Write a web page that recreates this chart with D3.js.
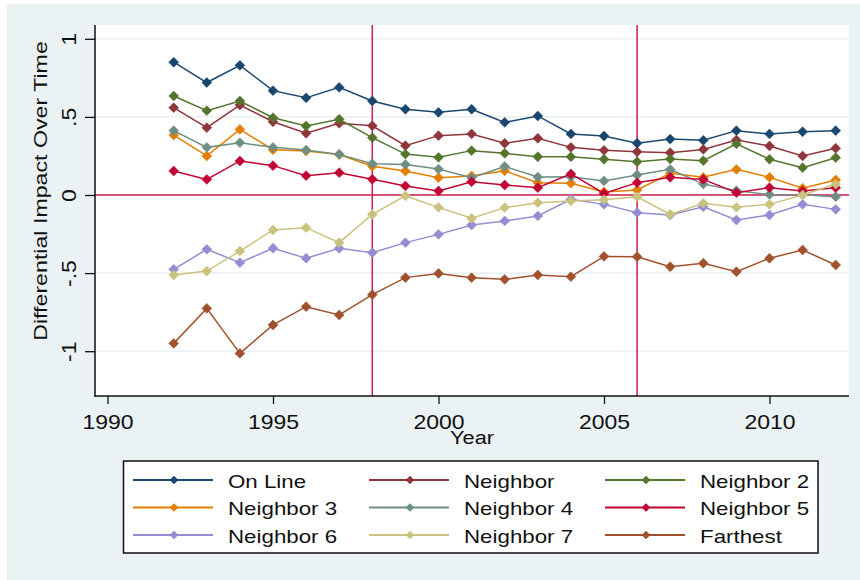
<!DOCTYPE html>
<html>
<head>
<meta charset="utf-8">
<script src="https://cdn.jsdelivr.net/npm/d3@7"></script>
<style>
  html, body { margin: 0; padding: 0; background: #ffffff; }
  svg { display: block; }
  text { font-family: "Liberation Sans", Arial, sans-serif; fill: #111111; }
</style>
</head>
<body>
<svg id="chart" width="860" height="580"></svg>
<script>
// Years on the horizontal axis
const years = [1992, 1993, 1994, 1995, 1996, 1997, 1998, 1999, 2000, 2001, 2002,
               2003, 2004, 2005, 2006, 2007, 2008, 2009, 2010, 2011, 2012];

// Series labels, in drawing / legend order
const seriesNames = ["On Line", "Neighbor", "Neighbor 2", "Neighbor 3", "Neighbor 4",
                     "Neighbor 5", "Neighbor 6", "Neighbor 7", "Farthest"];

// Differential impact by year, one array per series
const onLine    = [0.850, 0.720, 0.830, 0.668, 0.622, 0.689, 0.602, 0.549, 0.529, 0.549, 0.465,
                   0.506, 0.391, 0.378, 0.331, 0.358, 0.350, 0.412, 0.391, 0.405, 0.412];
const neighbor  = [0.559, 0.431, 0.576, 0.469, 0.395, 0.459, 0.443, 0.316, 0.380, 0.391, 0.331,
                   0.363, 0.305, 0.286, 0.277, 0.271, 0.292, 0.352, 0.314, 0.250, 0.299];
const neighbor2 = [0.634, 0.540, 0.602, 0.495, 0.442, 0.485, 0.367, 0.262, 0.241, 0.284, 0.267,
                   0.245, 0.245, 0.229, 0.213, 0.230, 0.220, 0.327, 0.229, 0.175, 0.239];
const neighbor3 = [0.384, 0.250, 0.420, 0.290, 0.282, 0.259, 0.184, 0.154, 0.111, 0.122, 0.155,
                   0.078, 0.075, 0.020, 0.032, 0.139, 0.113, 0.164, 0.113, 0.043, 0.096];
const neighbor4 = [0.412, 0.305, 0.335, 0.305, 0.288, 0.260, 0.200, 0.196, 0.166, 0.111, 0.183,
                   0.115, 0.117, 0.090, 0.128, 0.164, 0.070, 0.028, 0.003, 0.002, -0.011];
const neighbor5 = [0.154, 0.100, 0.218, 0.188, 0.124, 0.143, 0.101, 0.058, 0.026, 0.085, 0.064,
                   0.047, 0.135, 0.010, 0.079, 0.113, 0.100, 0.015, 0.047, 0.026, 0.047];
const neighbor6 = [-0.476, -0.348, -0.433, -0.341, -0.405, -0.341, -0.369, -0.305, -0.252, -0.192, -0.166,
                   -0.134, -0.028, -0.060, -0.113, -0.128, -0.075, -0.160, -0.128, -0.060, -0.092];
const neighbor7 = [-0.512, -0.487, -0.359, -0.224, -0.209, -0.305, -0.124, -0.006, -0.079, -0.149, -0.081,
                   -0.049, -0.038, -0.030, -0.011, -0.124, -0.053, -0.079, -0.060, 0.000, 0.070];
const farthest  = [-0.950, -0.726, -1.014, -0.832, -0.715, -0.768, -0.638, -0.529, -0.502, -0.529, -0.540,
                   -0.512, -0.523, -0.393, -0.395, -0.459, -0.437, -0.491, -0.405, -0.352, -0.448];

// Axis ticks and reference lines
const xTicks = [1990, 1995, 2000, 2005, 2010];
const yTicks = [-1, -0.5, 0, 0.5, 1];
const refYears = [1998, 2006];
const refValue = 0;

// Styling
const seriesColors = ["#1a476f", "#90353b", "#55752f", "#e37e00", "#6e8e84",
                      "#c10534", "#938dd2", "#cac27e", "#a0522d"];
const refColor = "#cc1d4a";
const bgColor = "#eaf2f3";

const seriesValues = [onLine, neighbor, neighbor2, neighbor3, neighbor4,
                      neighbor5, neighbor6, neighbor7, farthest];
const series = seriesNames.map((name, i) => ({
  name,
  color: seriesColors[i],
  points: years.map((yr, j) => ({ year: yr, value: seriesValues[i][j] }))
}));

const svg = d3.select("#chart");
const plot = { left: 95, right: 849, top: 25, bottom: 396 };

// Graph region and plot region
svg.append("rect").attr("x", 7).attr("y", 4).attr("width", 853).attr("height", 576).attr("fill", bgColor);
svg.append("rect").attr("x", plot.left).attr("y", plot.top)
  .attr("width", plot.right - plot.left).attr("height", plot.bottom - plot.top).attr("fill", "#ffffff");

const x = d3.scaleLinear().domain([1990, 2010]).range([107.5, 769.5]);
const y = d3.scaleLinear().domain([-1, 1]).range([351.2, 38.8]);

// Horizontal grid lines
svg.append("g").selectAll("line")
  .data(yTicks.filter(v => v !== refValue))
  .join("line")
  .attr("x1", plot.left).attr("x2", plot.right)
  .attr("y1", d => y(d)).attr("y2", d => y(d))
  .attr("stroke", bgColor).attr("stroke-width", 1.6);

// Reference lines
svg.append("line")
  .attr("x1", plot.left).attr("x2", plot.right)
  .attr("y1", y(refValue)).attr("y2", y(refValue))
  .attr("stroke", refColor).attr("stroke-width", 1.5);
svg.append("g").selectAll("line")
  .data(refYears)
  .join("line")
  .attr("x1", d => x(d)).attr("x2", d => x(d))
  .attr("y1", plot.top).attr("y2", plot.bottom)
  .attr("stroke", refColor).attr("stroke-width", 1.5);

// Series lines and diamond markers
const line = d3.line().x(d => x(d.year)).y(d => y(d.value));
const diamond = d3.symbol().type(d3.symbolDiamond2).size(62);

const sg = svg.append("g").selectAll("g").data(series).join("g");
sg.append("path")
  .attr("d", d => line(d.points))
  .attr("fill", "none")
  .attr("stroke", d => d.color)
  .attr("stroke-width", 1.5);
sg.each(function (s) {
  d3.select(this).selectAll("path.mk")
    .data(s.points)
    .join("path")
    .attr("class", "mk")
    .attr("d", diamond)
    .attr("transform", d => `translate(${x(d.year)},${y(d.value)})`)
    .attr("fill", s.color)
    .attr("stroke", s.color)
    .attr("stroke-width", 0.6);
});

// Stata-style tick labels: drop the leading zero
const fmtY = d => d === 0 ? "0" : String(d).replace("0.", ".");

// Y axis
const yAxisG = svg.append("g")
  .attr("transform", `translate(${plot.left},0)`)
  .call(d3.axisLeft(y).tickValues(yTicks).tickSize(10).tickFormat(fmtY));
yAxisG.select(".domain").remove();
yAxisG.attr("font-family", null).attr("font-size", null);
yAxisG.selectAll(".tick line").attr("stroke", "#111").attr("stroke-width", 1.3);
yAxisG.selectAll(".tick text")
  .attr("x", null).attr("dy", null)
  .attr("text-anchor", "middle")
  .attr("font-size", 20)
  .attr("fill", "#111")
  .attr("transform", "translate(-19,0) rotate(-90) scale(1.15,1)");
svg.append("line")
  .attr("x1", plot.left).attr("x2", plot.left)
  .attr("y1", plot.top).attr("y2", plot.bottom + 0.7)
  .attr("stroke", "#111").attr("stroke-width", 1.5);

// X axis
const xAxisG = svg.append("g")
  .attr("transform", `translate(0,${plot.bottom})`)
  .call(d3.axisBottom(x).tickValues(xTicks).tickSize(8).tickFormat(d3.format("d")));
xAxisG.select(".domain").remove();
xAxisG.attr("font-family", null).attr("font-size", null);
xAxisG.selectAll(".tick line").attr("stroke", "#111").attr("stroke-width", 1.3);
xAxisG.selectAll(".tick text")
  .attr("y", null).attr("dy", null)
  .attr("text-anchor", "middle")
  .attr("font-size", 20)
  .attr("fill", "#111")
  .attr("transform", "translate(0,33) scale(1.15,1)");
svg.append("line")
  .attr("x1", plot.left - 0.7).attr("x2", plot.right)
  .attr("y1", plot.bottom).attr("y2", plot.bottom)
  .attr("stroke", "#111").attr("stroke-width", 1.5);

// Axis titles
svg.append("text")
  .attr("transform", `translate(${(plot.left + plot.right) / 2},444) scale(1.21,1)`)
  .attr("text-anchor", "middle")
  .attr("font-size", 18)
  .text("Year");
svg.append("text")
  .attr("transform", "translate(47,191) rotate(-90) scale(1.22,1)")
  .attr("text-anchor", "middle")
  .attr("font-size", 19)
  .text("Differential Impact Over Time");

// Legend
const legend = svg.append("g");
legend.append("rect")
  .attr("x", 123.5).attr("y", 461).attr("width", 694.5).attr("height", 92)
  .attr("fill", "#ffffff").attr("stroke", "#111").attr("stroke-width", 1.5);
const colX = [133, 369, 605];
const rowY = [480, 507.5, 535];
const legendDiamond = d3.symbol().type(d3.symbolDiamond2).size(48);
const items = legend.selectAll("g.item").data(series).join("g")
  .attr("class", "item")
  .attr("transform", (d, i) => `translate(${colX[i % 3]},${rowY[Math.floor(i / 3)]})`);
items.append("line")
  .attr("x1", 0).attr("x2", 80).attr("y1", 0).attr("y2", 0)
  .attr("stroke", d => d.color).attr("stroke-width", 2);
items.append("path")
  .attr("d", legendDiamond)
  .attr("transform", "translate(41,0)")
  .attr("fill", d => d.color);
items.append("text")
  .attr("transform", "translate(95,7.5) scale(1.24,1)")
  .attr("font-size", 18)
  .text(d => d.name);
</script>
</body>
</html>
